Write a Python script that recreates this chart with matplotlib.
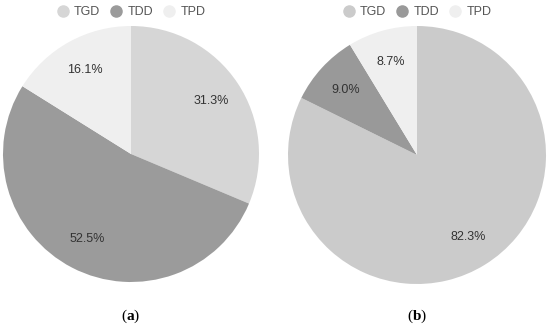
import matplotlib
matplotlib.use('Agg')
import matplotlib.pyplot as plt
from matplotlib.lines import Line2D

plt.rcParams['font.family'] = 'Liberation Sans'
plt.rcParams['mathtext.fontset'] = 'custom'
plt.rcParams['mathtext.rm'] = 'Liberation Serif'
plt.rcParams['mathtext.bf'] = 'Liberation Serif:bold'

# Data
labels = ['TGD', 'TDD', 'TPD']
share_a = [31.3, 52.5, 16.1]
share_b = [82.3, 9.0, 8.7]
colors_a = ['#d6d6d6', '#9b9b9b', '#efefef']
colors_b = ['#cbcbcb', '#999999', '#efefef']
captions = ['a', 'b']

W, H = 550, 330
fig = plt.figure(figsize=(5.5, 3.3), dpi=100)


def add_pie(cx, cy, r, values, colors, caption):
    ax = fig.add_axes([(cx - r) / W, (H - cy - r) / H, 2 * r / W, 2 * r / H])
    total = sum(values)
    ax.pie(values, colors=colors, startangle=90, counterclock=False,
           autopct=lambda p: f'{p * total / 100:.1f}%', pctdistance=0.75,
           radius=1, textprops={'fontsize': 9, 'color': '#333333'},
           wedgeprops={'linewidth': 0})
    ax.set_xlim(-1, 1)
    ax.set_ylim(-1, 1)
    ax.set_aspect('auto')
    ax.axis('off')

    handles = [Line2D([], [], marker='o', linestyle='', markersize=8,
                      markerfacecolor=c, markeredgecolor=c) for c in colors]
    fig.legend(handles, labels, loc='center', ncol=3, frameon=False,
               bbox_to_anchor=(cx / W, 1 - 12 / H), fontsize=9,
               labelcolor='#555555', handletextpad=0.4, columnspacing=0.8,
               handlelength=1.0)

    fig.text(cx / W, 1 - 316 / H, r'($\mathbf{' + caption + '}$)',
             ha='center', va='center', fontsize=11, family='Liberation Serif')


add_pie(131, 154, 128, share_a, colors_a, captions[0])
add_pie(417, 155, 129, share_b, colors_b, captions[1])

fig.savefig('out.png', dpi=100, facecolor='white')
